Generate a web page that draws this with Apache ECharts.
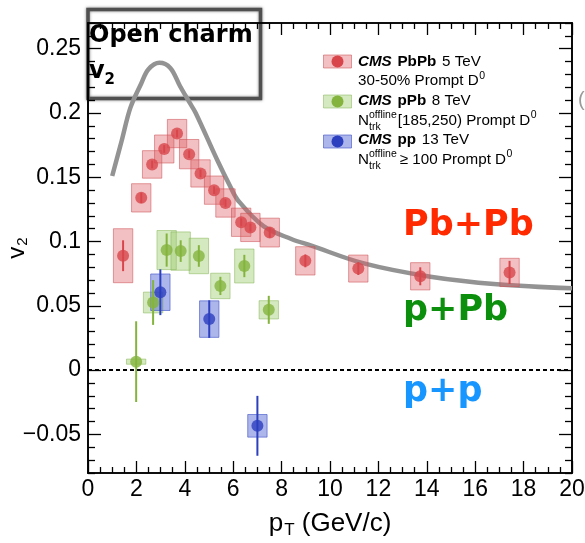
<!DOCTYPE html>
<html>
<head>
<meta charset="utf-8">
<script src="https://cdn.jsdelivr.net/npm/echarts@6/dist/echarts.min.js"></script>
<style>
html,body{margin:0;padding:0;background:#fff;}
#chart{width:585px;height:543px;}
</style>
</head>
<body>
<div id="chart"></div>
<script>
// ---------------- DATA ----------------
// CMS PbPb 5 TeV, 30-50% prompt D0
const redPt   = [1.45, 2.20, 2.65, 3.15, 3.68, 4.18, 4.65, 5.21, 5.68, 6.33, 6.71, 7.51, 8.98, 11.17, 13.73, 17.42];
const redV2   = [0.089, 0.134, 0.160, 0.172, 0.184, 0.168, 0.153, 0.140, 0.130, 0.115, 0.111, 0.107, 0.085, 0.079, 0.073, 0.076];
const redStat = [0.012, 0.004, 0.003, 0.003, 0.003, 0.003, 0.003, 0.003, 0.003, 0.003, 0.003, 0.004, 0.005, 0.005, 0.007, 0.009];
const redSys  = [0.021, 0.011, 0.0107, 0.0109, 0.011, 0.0114, 0.0106, 0.011, 0.011, 0.011, 0.011, 0.0112, 0.011, 0.0105, 0.0106, 0.011];

// CMS pPb 8 TeV, N_trk^offline [185,250)
const greenPt   = [1.99, 2.69, 3.25, 3.83, 4.58, 5.47, 6.46, 7.47];
const greenV2   = [0.0066, 0.0526, 0.0934, 0.0926, 0.0888, 0.0655, 0.0810, 0.0469];
const greenStat = [0.0314, 0.0174, 0.0129, 0.0084, 0.0084, 0.0071, 0.0087, 0.0109];
const greenSys  = [0.002, 0.0081, 0.0152, 0.0149, 0.0138, 0.0099, 0.0132, 0.0071];

// CMS pp 13 TeV, N_trk^offline >= 100
const bluePt   = [2.99, 5.01, 7.0];
const blueV2   = [0.0606, 0.0397, -0.0433];
const blueStat = [0.0178, 0.0146, 0.0233];
const blueSys  = [0.0142, 0.0142, 0.0088];

// model curve (grey)
const curvePt = [1.0, 1.4, 1.75, 2.2, 2.5, 2.95, 3.4, 3.8, 4.2, 4.45, 5.35, 5.9, 6.2, 7.25, 8.4, 9.2, 11.4, 14.15, 16.9, 20.0];
const curveV2 = [0.151, 0.179, 0.204, 0.223, 0.234, 0.239, 0.235, 0.221, 0.208, 0.200, 0.163, 0.142, 0.132, 0.112, 0.102, 0.097, 0.083, 0.0727, 0.0668, 0.0636];

// axes
const xMin = 0, xMax = 20;
const yMin = -0.08, yMax = 0.27;
const xMajor = [0, 2, 4, 6, 8, 10, 12, 14, 16, 18, 20];
const xMinor = [];
for (let i = 1; i < 40; i++) { if (i % 4 !== 0) xMinor.push(i * 0.5); }
const yMajor = [-0.05, 0, 0.05, 0.1, 0.15, 0.2, 0.25];
const yMinor = [];
for (let i = -8; i <= 27; i++) { if (i % 5 !== 0) yMinor.push(+(i * 0.01).toFixed(2)); }
const zeroLine = 0;
const boxHalfWidth = 0.4; // pT half-width of systematic boxes

// ---------------- STYLE ----------------
const FONT = '"Liberation Sans", Arial, Helvetica, sans-serif';
const BOLDFONT = '"DejaVu Sans", sans-serif';
const sets = [
  {name: 'PbPb', pt: redPt, v2: redV2, stat: redStat, sys: redSys,
   marker: '#d8464b', boxFill: 'rgba(222,90,95,0.38)', boxStroke: 'rgba(205,80,85,0.55)'},
  {name: 'pPb', pt: greenPt, v2: greenV2, stat: greenStat, sys: greenSys,
   marker: '#84b43d', boxFill: 'rgba(150,200,100,0.40)', boxStroke: 'rgba(130,180,80,0.5)'},
  {name: 'pp', pt: bluePt, v2: blueV2, stat: blueStat, sys: blueSys,
   marker: '#2c3fbf', boxFill: 'rgba(60,80,205,0.42)', boxStroke: 'rgba(60,80,200,0.6)'}
];

const series = [];
series.push({
  type: 'line', name: 'model', smooth: 0.35, symbol: 'none', z: 1,
  data: curvePt.map((p, i) => [p, curveV2[i]]),
  lineStyle: {color: '#939393', width: 4.5},
  markLine: {
    silent: true, symbol: 'none', label: {show: false},
    lineStyle: {color: '#000', width: 2, type: [4, 3]},
    data: [{yAxis: zeroLine}]
  }
});
sets.forEach(s => {
  const data = s.pt.map((p, i) => [p, s.v2[i], s.sys[i], s.stat[i]]);
  series.push({
    type: 'custom', name: s.name + ' sys', z: 2, data,
    encode: {x: 0, y: 1},
    renderItem: (params, api) => {
      const x = api.value(0), y = api.value(1), d = api.value(2);
      const a = api.coord([x - boxHalfWidth, y + d]);
      const b = api.coord([x + boxHalfWidth, y - d]);
      return {type: 'rect', shape: {x: a[0], y: a[1], width: b[0] - a[0], height: b[1] - a[1]},
              style: {fill: s.boxFill, stroke: s.boxStroke, lineWidth: 1}};
    }
  });
  series.push({
    type: 'custom', name: s.name + ' stat', z: 3, data,
    encode: {x: 0, y: 1},
    renderItem: (params, api) => {
      const x = api.value(0), y = api.value(1), e = api.value(3);
      const a = api.coord([x, y + e]);
      const b = api.coord([x, y - e]);
      return {type: 'line', shape: {x1: a[0], y1: a[1], x2: b[0], y2: b[1]},
              style: {stroke: s.marker, lineWidth: 2}};
    }
  });
  series.push({
    type: 'scatter', name: s.name, z: 4, symbol: 'circle', symbolSize: 12,
    data: s.pt.map((p, i) => [p, s.v2[i]]),
    itemStyle: {color: s.marker}
  });
});

// ---------------- AXES ----------------
const axisLine = {show: true, onZero: false, lineStyle: {color: '#000', width: 1.6}};
function xAx(pos, values, len, labels) {
  return {
    type: 'value', position: pos, min: xMin, max: xMax,
    axisLine, splitLine: {show: false},
    axisTick: {show: true, inside: true, length: len, customValues: values, lineStyle: {color: '#000', width: 1.3}},
    axisLabel: labels ? {show: true, customValues: values, color: '#000', fontSize: 23, fontFamily: FONT, margin: 5,
                         formatter: v => String(v)} : {show: false}
  };
}
function yAx(pos, values, len, labels) {
  return {
    type: 'value', position: pos, min: yMin, max: yMax,
    axisLine, splitLine: {show: false},
    axisTick: {show: true, inside: true, length: len, customValues: values, lineStyle: {color: '#000', width: 1.3}},
    axisLabel: labels ? {show: true, customValues: values, color: '#000', fontSize: 23, fontFamily: FONT, margin: 7,
                         formatter: v => String(+v.toFixed(2)).replace('-', '\u2212')} : {show: false}
  };
}
const xAxes = [xAx('bottom', xMajor, 12, true), xAx('bottom', xMinor, 6, false),
               xAx('top', xMajor, 12, false), xAx('top', xMinor, 6, false)];
xAxes[0].name = '{p|p}{t|T} (GeV/c)';
xAxes[0].nameLocation = 'middle';
xAxes[0].nameGap = 35;
xAxes[0].nameMoveOverlap = false;
xAxes[0].nameTextStyle = {color: '#000', fontSize: 26, fontFamily: FONT,
  rich: {p: {fontSize: 26, fontFamily: FONT, color: '#000'},
         t: {fontSize: 17, fontFamily: FONT, color: '#000', verticalAlign: 'bottom', padding: [14, 0, 0, 1]}}};
const yAxes = [yAx('left', yMajor, 13, true), yAx('left', yMinor, 7, false),
               yAx('right', yMajor, 13, false), yAx('right', yMinor, 7, false)];
yAxes[0].name = '{v|v}{s|2}';
yAxes[0].nameLocation = 'middle';
yAxes[0].nameRotate = 90;
yAxes[0].nameGap = 58;
yAxes[0].nameMoveOverlap = false;
yAxes[0].nameTextStyle = {color: '#000', fontSize: 24, fontFamily: FONT,
  rich: {v: {fontSize: 24, fontFamily: FONT, color: '#000'},
         s: {fontSize: 15, fontFamily: FONT, color: '#000', verticalAlign: 'bottom', padding: [10, 0, 0, 1]}}};

// ---------------- LEGEND / ANNOTATIONS (graphic) ----------------
const mctx = document.createElement('canvas').getContext('2d');
function fontStr(size, weight, style, family) {
  return (style || 'normal') + ' ' + (weight || 'normal') + ' ' + size + 'px ' + (family || FONT);
}
function tw(text, font) { mctx.font = font; return mctx.measureText(text).width; }
function txt(x, baseline, text, size, weight, style, color, family) {
  return {type: 'text', x: x, y: baseline - 0.35 * size, silent: true,
          style: {text, fill: color || '#000', font: fontStr(size, weight, style, family),
                  verticalAlign: 'middle', align: 'left'}};
}
const LFS = 15.2;
const SFS = 10.5;
const legendX = 358;
const graphics = [];
function line(baseline, segs) {
  let x = legendX;
  segs.forEach(sg => {
    if (sg.stack) {
      graphics.push(txt(x, baseline - 7.5, sg.sup, SFS));
      graphics.push(txt(x, baseline + 4.5, sg.sub, SFS));
      x += Math.max(tw(sg.sup, fontStr(SFS)), tw(sg.sub, fontStr(SFS))) + (sg.gap || 0);
    } else if (sg.sup) {
      graphics.push(txt(x + 0.5, baseline - 7, sg.sup, SFS));
      x += tw(sg.sup, fontStr(SFS));
    } else {
      x += (sg.pre || 0);
      graphics.push(txt(x, baseline, sg.t, LFS, sg.w, sg.s));
      x += tw(sg.t, fontStr(LFS, sg.w, sg.s));
    }
  });
}
line(67.5, [{t: 'CMS', w: 'bold', s: 'italic'}, {t: ' PbPb', w: 'bold', pre: 1.5}, {t: ' 5 TeV', pre: 1.5}]);
line(86.5, [{t: '30-50% Prompt D'}, {sup: '0'}]);
line(106.5, [{t: 'CMS', w: 'bold', s: 'italic'}, {t: ' pPb', w: 'bold', pre: 1.5}, {t: ' 8 TeV', pre: 1.5}]);
line(126, [{t: 'N'}, {stack: true, sup: 'offline', sub: 'trk', gap: 1}, {t: '[185,250) Prompt D'}, {sup: '0'}]);
line(145.5, [{t: 'CMS', w: 'bold', s: 'italic'}, {t: ' pp', w: 'bold', pre: 1.5}, {t: ' 13 TeV', pre: 1.5}]);
line(165, [{t: 'N'}, {stack: true, sup: 'offline', sub: 'trk', gap: 3}, {t: '\u2265 100 Prompt D'}, {sup: '0'}]);
[[61.5, 0], [101.5, 1], [141.5, 2]].forEach(([cy, k]) => {
  const s = sets[k];
  graphics.push({type: 'rect', silent: true, shape: {x: 323.5, y: cy - 6.5, width: 28, height: 13},
                 style: {fill: s.boxFill, stroke: s.boxStroke, lineWidth: 1}});
  graphics.push({type: 'circle', silent: true, shape: {cx: 337.5, cy: cy, r: 6}, style: {fill: s.marker}});
});
graphics.push({type: 'rect', silent: true, shape: {x: 88, y: 9.5, width: 172.5, height: 89},
               style: {fill: 'none', stroke: '#505050', lineWidth: 3.5, shadowBlur: 3, shadowColor: 'rgba(0,0,0,0.5)'}});
graphics.push(txt(89, 44, 'Open charm', 24, 'bold', 'normal', '#000', BOLDFONT));
graphics.push(txt(89, 80, 'v', 24, 'bold', 'normal', '#000', BOLDFONT));
graphics.push(txt(104.5, 85, '2', 15, 'bold', 'normal', '#000', BOLDFONT));
graphics.push(txt(403, 238, 'Pb+Pb', 35, 'bold', 'normal', '#ff2a00', BOLDFONT));
graphics.push(txt(403, 323, 'p+Pb', 35, 'bold', 'normal', '#0c8f0c', BOLDFONT));
graphics.push(txt(403, 404, 'p+p', 35, 'bold', 'normal', '#1896ff', BOLDFONT));
graphics.push(txt(578, 107, '(', 20, 'normal', 'normal', '#9a9a9a'));

const chart = echarts.init(document.getElementById('chart'), null, {renderer: 'canvas'});
chart.setOption({
  animation: false,
  backgroundColor: '#fff',
  grid: {left: 88, right: 13, top: 23, bottom: 70, containLabel: false, outerBoundsMode: 'none'},
  xAxis: xAxes,
  yAxis: yAxes,
  series: series,
  graphic: graphics
});
</script>
</body>
</html>
